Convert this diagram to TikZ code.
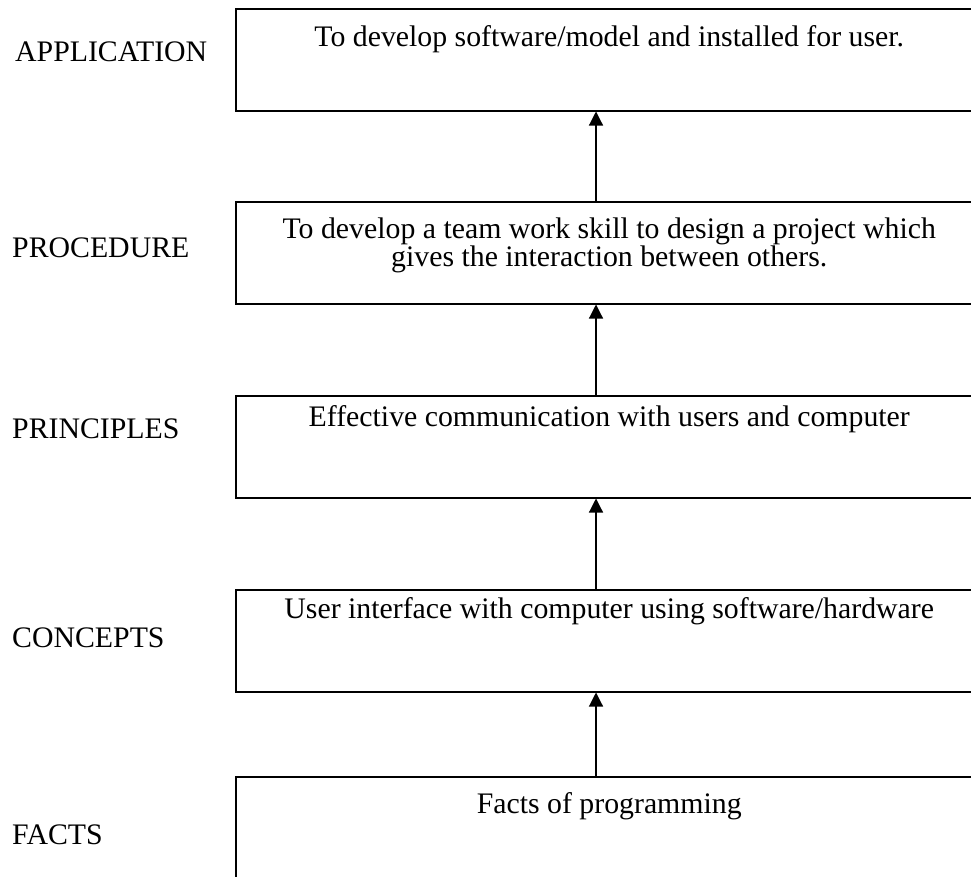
\documentclass[tikz,border=0pt]{standalone}
\usepackage{fontspec}
\setmainfont{Liberation Serif}
\usetikzlibrary{arrows.meta}
\begin{document}
\begin{tikzpicture}[x=1pt,y=-1pt,
  box/.style={draw=black, line width=1.5pt, rectangle, anchor=north west,
    minimum width=747pt, minimum height=102pt, inner sep=0pt},
  txt/.style={anchor=base, align=center, inner sep=0pt,
    font=\fontsize{29.8}{28}\selectfont},
  lvl/.style={anchor=base west, inner sep=0pt, font=\fontsize{29.8}{34}\selectfont},
  up/.style={line width=1.2pt, -{Triangle[width=14pt,length=14pt]}}]
\useasboundingbox (0,0) rectangle (971,876);
\clip (0,0) rectangle (971,876);
\fill[white] (0,0) rectangle (971,876);
\coordinate (ax) at (596,0);
% boxes
\node[box] (b1) at (235,8) {};
\node[box] (b2) at (235,201) {};
\node[box] (b3) at (235,395) {};
\node[box] (b4) at (235,589) {};
\node[box] (b5) at (235,776) {};
% box texts
\node[txt] (t1) at ([yshift=-38pt]b1.north) {To develop software/model and installed for user.};
\node[txt] (t2) at ([yshift=-65pt]b2.north) {To develop a team work skill to design a project which\\gives the interaction between others.};
\node[txt] (t3) at ([yshift=-31pt]b3.north) {Effective communication with users and computer};
\node[txt] (t4) at ([yshift=-29pt]b4.north) {User interface with computer using software/hardware};
\node[txt] (t5) at ([yshift=-37pt]b5.north) {Facts of programming};
% level labels
\node[lvl] (l1) at (15,61) {APPLICATION};
\node[lvl] (l2) at (12,257) {PROCEDURE};
\node[lvl] (l3) at (12,438) {PRINCIPLES};
\node[lvl] (l4) at (12,647) {CONCEPTS};
\node[lvl] (l5) at (12,844) {FACTS};
% arrows
\draw[up] (b2.north -| ax) -- (b1.south -| ax);
\draw[up] (b3.north -| ax) -- (b2.south -| ax);
\draw[up] (b4.north -| ax) -- (b3.south -| ax);
\draw[up] (b5.north -| ax) -- (b4.south -| ax);
\end{tikzpicture}
\end{document}
